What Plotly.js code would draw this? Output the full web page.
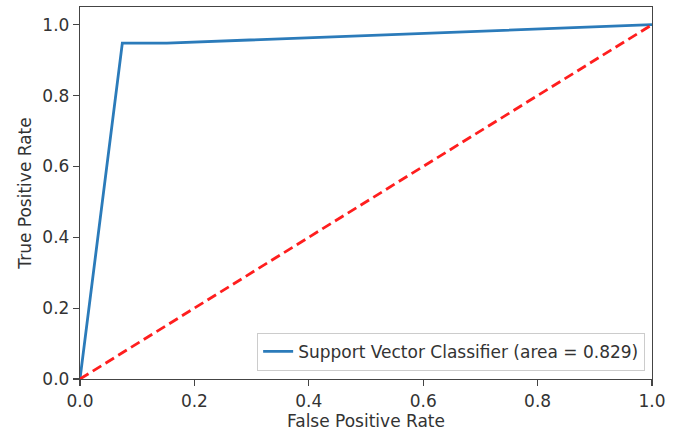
<!DOCTYPE html>
<html>
<head>
<meta charset="utf-8">
<script src="https://cdn.plot.ly/plotly-3.0.1.min.js"></script>
<style>html,body{margin:0;padding:0;background:#fff;}#chart{width:677px;height:433px;}</style>
</head>
<body>
<div id="chart"></div>
<script>
const fpr = [0.0, 0.074, 0.152, 1.0];
const tpr = [0.0, 0.948, 0.948, 1.0];
const diagX = [0, 1];
const diagY = [0, 1];
const curveLabel = 'Support Vector Classifier (area = 0.829)';
const xTicks = [0, 0.2, 0.4, 0.6, 0.8, 1.0];
const yTicks = [0, 0.2, 0.4, 0.6, 0.8, 1.0];

const font = {family: 'DejaVu Sans, sans-serif', size: 17, color: '#333'};

const traces = [
  {x: fpr, y: tpr, mode: 'lines', name: curveLabel,
   line: {color: '#2b7bba', width: 2.8}, showlegend: true},
  {x: diagX, y: diagY, mode: 'lines', name: '',
   line: {color: 'rgb(255,30,30)', width: 2.8, dash: '10px,5px'}, showlegend: false}
];

const axisBase = {
  showgrid: false, zeroline: false, showline: true, mirror: true,
  linecolor: '#444', linewidth: 1.2, ticks: 'outside', ticklen: 6,
  tickcolor: '#444', tickwidth: 1.2, tickfont: font, tickformat: '.1f'
};

const layout = {
  width: 677, height: 433,
  margin: {l: 80, r: 25, t: 7, b: 54},
  paper_bgcolor: '#fff', plot_bgcolor: '#fff',
  font: font,
  xaxis: Object.assign({}, axisBase, {range: [0, 1], tickvals: xTicks,
    title: {text: 'False Positive Rate', font: font, standoff: 4}}),
  yaxis: Object.assign({}, axisBase, {range: [0, 1.05], tickvals: yTicks,
    title: {text: 'True Positive Rate', font: font, standoff: 6}}),
  legend: {x: 0.988, y: 0.022, xanchor: 'right', yanchor: 'bottom',
    bgcolor: 'rgba(255,255,255,0.8)', bordercolor: '#ccc', borderwidth: 1,
    font: font, itemwidth: 30},
  showlegend: true
};

Plotly.newPlot('chart', traces, layout, {displayModeBar: false, staticPlot: true});
</script>
</body>
</html>
